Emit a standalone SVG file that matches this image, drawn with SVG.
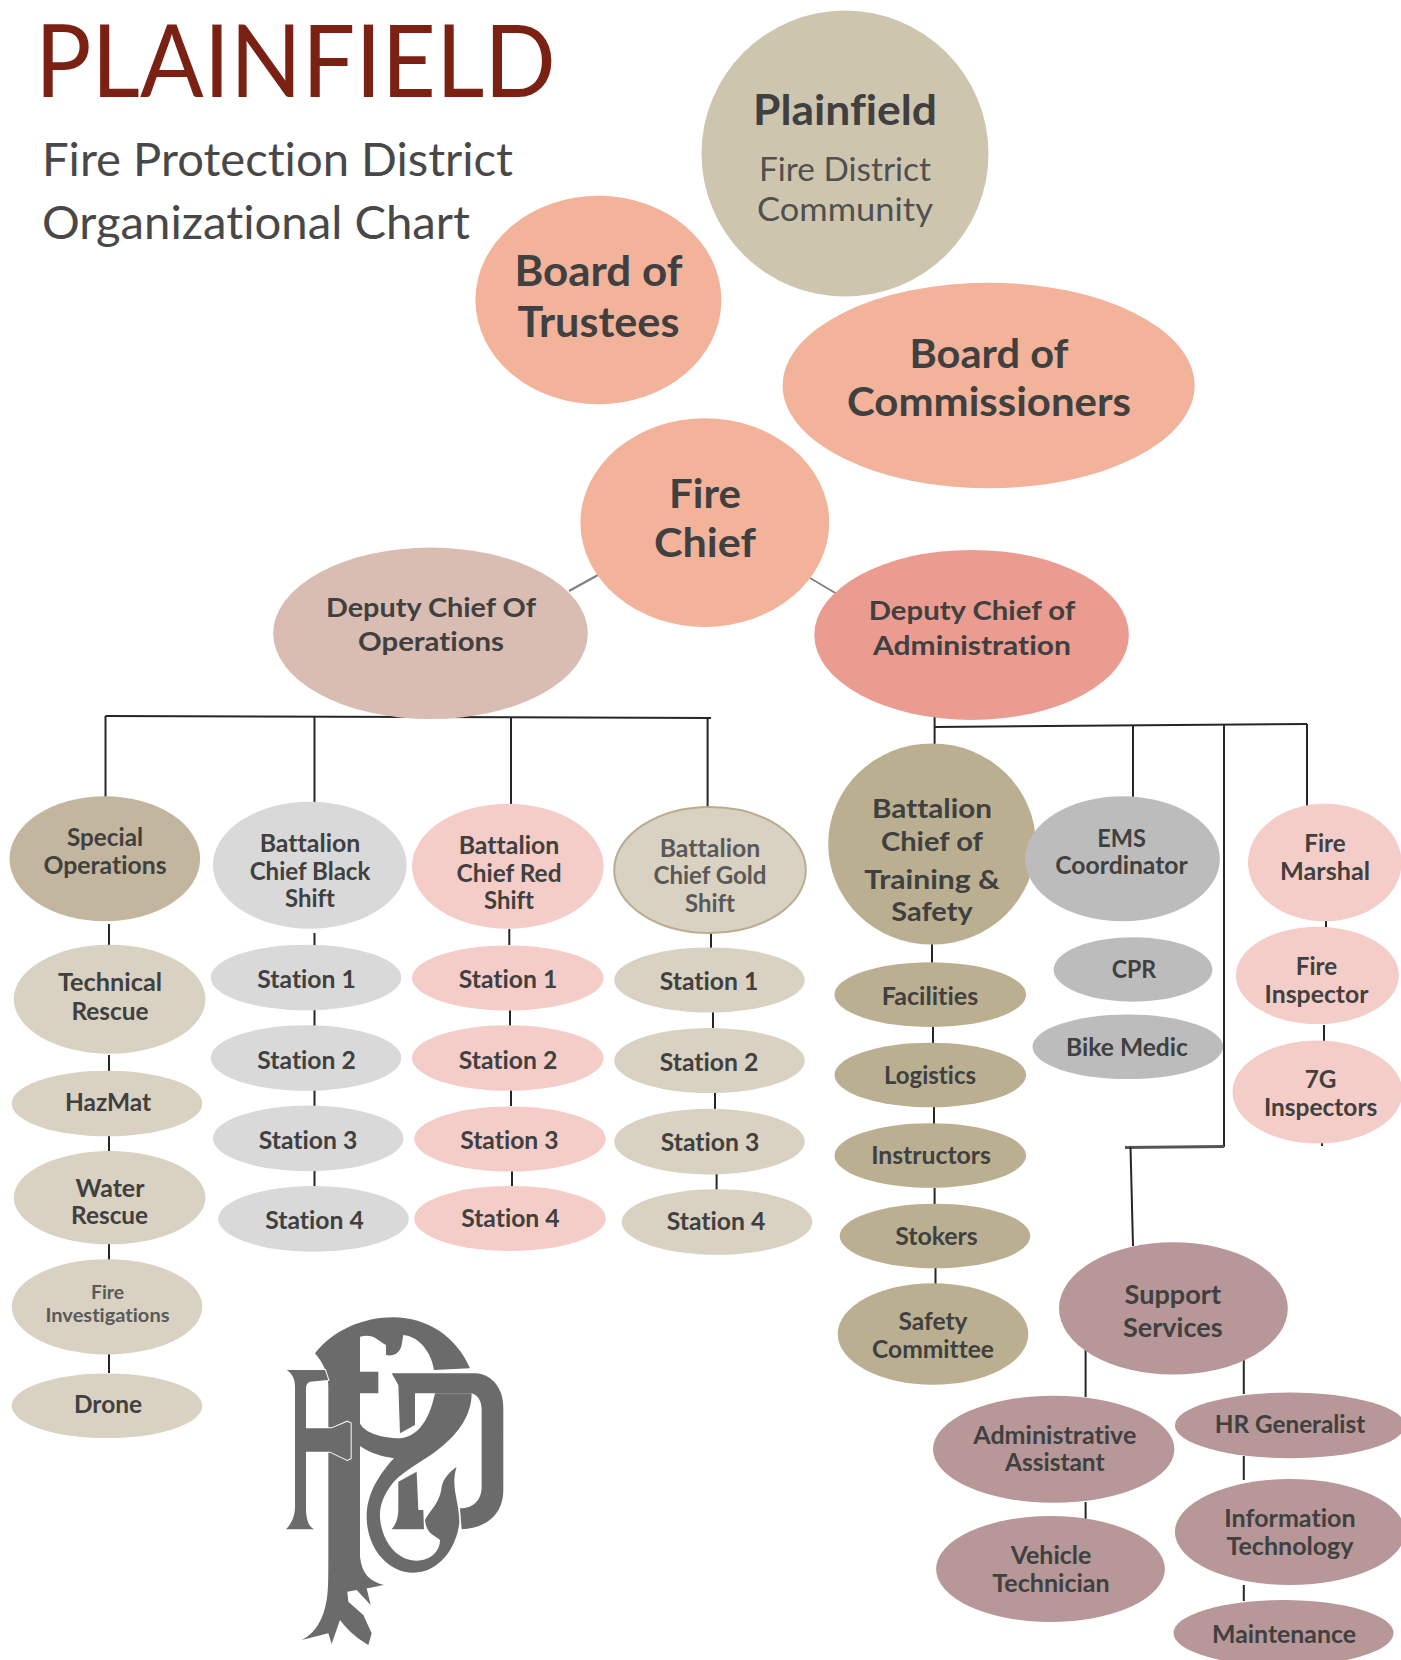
<svg xmlns="http://www.w3.org/2000/svg" width="1401" height="1660" viewBox="0 0 1401 1660">
<style>
text{font-family:Lato,"Liberation Sans",sans-serif;text-anchor:middle;fill:#404040;font-size:24px;font-weight:700;font-variant-ligatures:none}
.h{font-size:42px;font-weight:700}
.m{font-size:27px;font-weight:700}
.l{font-size:32px;font-weight:400;fill:#505050}
.t{text-anchor:start;font-weight:400}
.g{fill:#595959}
.pl{fill:#cec5af}.sa{fill:#f3b29a}.dop{fill:#d9bcb2}.dad{fill:#ea9c91}
.so{fill:#c3b69e}.tn{fill:#bbaf92}.gy{fill:#d9d9d9}.pk{fill:#f5cdc8}.bg{fill:#d9d1c1}.mg{fill:#bcbcbc}.mv{fill:#b79797}
#connectors line{stroke:#262626;stroke-width:2}
</style>
<rect width="1401" height="1660" fill="#fff"/>
<g id="connectors">
<line x1="105.5" y1="716" x2="711" y2="718"/><line x1="105.5" y1="716" x2="105.5" y2="805"/><line x1="314.5" y1="717" x2="314.5" y2="805"/><line x1="511" y1="717" x2="511" y2="806"/><line x1="707.6" y1="718" x2="707.6" y2="808"/>
<line x1="569" y1="591" x2="598" y2="575" style="stroke:#808080"/><line x1="810" y1="578" x2="837" y2="594" style="stroke:#808080"/>
<line x1="934.6" y1="680" x2="934.6" y2="746"/><line x1="934.6" y1="727" x2="1307" y2="724"/><line x1="1133" y1="725" x2="1133" y2="800"/><line x1="1224" y1="724" x2="1224" y2="1147"/><line x1="1307" y1="724" x2="1307" y2="810"/>
<line x1="1125" y1="1147.5" x2="1224" y2="1146.5" style="stroke:#555;stroke-width:3"/><line x1="1130.5" y1="1147" x2="1133" y2="1246"/>
<line x1="109" y1="924" x2="109" y2="945"/><line x1="109" y1="1055" x2="109" y2="1071"/><line x1="109" y1="1135" x2="109" y2="1152"/><line x1="109" y1="1243" x2="109" y2="1260"/><line x1="109" y1="1354" x2="109" y2="1373"/>
<line x1="314.5" y1="933" x2="314.5" y2="945"/><line x1="314.5" y1="1009" x2="314.5" y2="1026"/><line x1="314.5" y1="1090" x2="314.5" y2="1106"/><line x1="314.5" y1="1170" x2="314.5" y2="1187"/>
<line x1="509.3" y1="929" x2="509.3" y2="945"/><line x1="510" y1="1010" x2="510" y2="1026"/><line x1="511" y1="1090" x2="511" y2="1106"/><line x1="512" y1="1170" x2="512" y2="1187"/>
<line x1="711" y1="933" x2="711" y2="948"/><line x1="713" y1="1012" x2="713" y2="1028"/><line x1="715" y1="1093" x2="715" y2="1109"/><line x1="716.6" y1="1173" x2="716.6" y2="1190"/>
<line x1="932" y1="944" x2="932" y2="963"/><line x1="933" y1="1027" x2="933" y2="1043"/><line x1="934" y1="1107" x2="934" y2="1124"/><line x1="934.6" y1="1188" x2="934.6" y2="1204"/><line x1="935.5" y1="1268" x2="935.5" y2="1284"/>
<line x1="1326" y1="921" x2="1326" y2="928"/><line x1="1324" y1="1025" x2="1324" y2="1041"/><line x1="1322" y1="1143" x2="1322" y2="1146"/>
<line x1="1085.6" y1="1350" x2="1085.6" y2="1397"/><line x1="1243.8" y1="1359" x2="1243.8" y2="1394"/><line x1="1243.8" y1="1456" x2="1243.8" y2="1480"/><line x1="1243.8" y1="1585" x2="1243.8" y2="1601"/><line x1="1085.6" y1="1502" x2="1085.6" y2="1519"/>
</g>
<g id="title">
<text class="t" x="35" y="97" textLength="521" lengthAdjust="spacingAndGlyphs" style="font-size:100px;fill:#7b2114">PLAINFIELD</text>
<text class="t" style="font-size:46px;fill:#484848"><tspan x="42" y="176" textLength="471" lengthAdjust="spacingAndGlyphs">Fire Protection District</tspan><tspan x="42" y="239" textLength="428" lengthAdjust="spacingAndGlyphs">Organizational Chart</tspan></text>
</g>
<g id="n-community"><ellipse class="pl" cx="845" cy="153.6" rx="143.5" ry="143"/>
<text class="h" x="845" y="125" textLength="184" lengthAdjust="spacingAndGlyphs">Plainfield</text>
<text class="l"><tspan x="845" y="181" textLength="172" lengthAdjust="spacingAndGlyphs">Fire District</tspan><tspan x="845" y="221" textLength="176" lengthAdjust="spacingAndGlyphs">Community</tspan></text></g>
<g id="n-trustees"><ellipse class="sa" cx="598.4" cy="300" rx="123" ry="104.3"/>
<text class="h"><tspan x="598.4" y="286" textLength="168" lengthAdjust="spacingAndGlyphs">Board of</tspan><tspan x="598.4" y="337" textLength="162" lengthAdjust="spacingAndGlyphs">Trustees</tspan></text></g>
<g id="n-commissioners"><ellipse class="sa" cx="988.6" cy="385.5" rx="206" ry="102.7"/>
<text class="h" style="font-size:40px"><tspan x="989" y="367.5" textLength="159" lengthAdjust="spacingAndGlyphs">Board of</tspan><tspan x="989" y="416" textLength="284" lengthAdjust="spacingAndGlyphs">Commissioners</tspan></text></g>
<g id="n-chief"><ellipse class="sa" cx="704.8" cy="522.6" rx="124.4" ry="104.3"/>
<text class="h" style="font-size:40px"><tspan x="705" y="508" textLength="72" lengthAdjust="spacingAndGlyphs">Fire</tspan><tspan x="705" y="557" textLength="102" lengthAdjust="spacingAndGlyphs">Chief</tspan></text></g>
<g id="n-dep-ops"><ellipse class="dop" cx="430.5" cy="633.3" rx="157.3" ry="85.8"/>
<text class="m"><tspan x="431" y="617" textLength="210" lengthAdjust="spacingAndGlyphs">Deputy Chief Of</tspan><tspan x="431" y="651" textLength="146" lengthAdjust="spacingAndGlyphs">Operations</tspan></text></g>
<g id="n-dep-admin"><ellipse class="dad" cx="971.6" cy="634.9" rx="157.3" ry="85"/>
<text class="m"><tspan x="972" y="620" textLength="206.5" lengthAdjust="spacingAndGlyphs">Deputy Chief of</tspan><tspan x="972" y="654.5" textLength="198" lengthAdjust="spacingAndGlyphs">Administration</tspan></text></g>
<g id="n-special"><ellipse class="so" cx="104.8" cy="858.8" rx="95.3" ry="62.5"/>
<text><tspan x="105" y="846" textLength="76" lengthAdjust="spacingAndGlyphs">Special</tspan><tspan x="105" y="874" textLength="123" lengthAdjust="spacingAndGlyphs">Operations</tspan></text></g>
<g id="n-technical"><ellipse class="bg" cx="109.6" cy="999.2" rx="95.8" ry="54.5"/>
<text><tspan x="110" y="991" textLength="104" lengthAdjust="spacingAndGlyphs">Technical</tspan><tspan x="110" y="1020" textLength="77" lengthAdjust="spacingAndGlyphs">Rescue</tspan></text></g>
<g id="n-hazmat"><ellipse class="bg" cx="107" cy="1103.5" rx="95.3" ry="32.8"/>
<text x="108" y="1111" textLength="86" lengthAdjust="spacingAndGlyphs">HazMat</text></g>
<g id="n-water"><ellipse class="bg" cx="109.6" cy="1197.7" rx="95.8" ry="46.6"/>
<text><tspan x="110" y="1196.7" textLength="69" lengthAdjust="spacingAndGlyphs">Water</tspan><tspan x="109.6" y="1224" textLength="77" lengthAdjust="spacingAndGlyphs">Rescue</tspan></text></g>
<g id="n-fireinv"><ellipse class="bg" cx="107" cy="1306.8" rx="95.3" ry="47.6"/>
<text style="font-size:19px;fill:#595959"><tspan x="107.5" y="1298.5" textLength="33" lengthAdjust="spacingAndGlyphs">Fire</tspan><tspan x="107.5" y="1321.6" textLength="124" lengthAdjust="spacingAndGlyphs">Investigations</tspan></text></g>
<g id="n-drone"><ellipse class="bg" cx="107" cy="1405.8" rx="95.3" ry="32.3"/>
<text x="108" y="1412.7" textLength="68" lengthAdjust="spacingAndGlyphs">Drone</text></g>
<g id="n-bc-black"><ellipse class="gy" cx="309.8" cy="865.2" rx="96.9" ry="63.5"/>
<text><tspan x="310" y="852" textLength="100.6" lengthAdjust="spacingAndGlyphs">Battalion</tspan><tspan x="310" y="879.5" textLength="120.7" lengthAdjust="spacingAndGlyphs">Chief Black</tspan><tspan x="310" y="907" textLength="50" lengthAdjust="spacingAndGlyphs">Shift</tspan></text></g>
<g id="n-b1"><ellipse class="gy" cx="306" cy="977.5" rx="95.3" ry="32.8"/><text x="306.6" y="988" textLength="98.5" lengthAdjust="spacingAndGlyphs">Station 1</text></g>
<g id="n-b2"><ellipse class="gy" cx="306" cy="1058" rx="95.3" ry="32.8"/><text x="306.6" y="1068.6" textLength="98.5" lengthAdjust="spacingAndGlyphs">Station 2</text></g>
<g id="n-b3"><ellipse class="gy" cx="308.2" cy="1138.4" rx="95.3" ry="32.8"/><text x="308" y="1149" textLength="98.5" lengthAdjust="spacingAndGlyphs">Station 3</text></g>
<g id="n-b4"><ellipse class="gy" cx="313.5" cy="1218.9" rx="95.3" ry="32.8"/><text x="314.5" y="1228.8" textLength="98.5" lengthAdjust="spacingAndGlyphs">Station 4</text></g>
<g id="n-bc-red"><ellipse class="pk" cx="507.8" cy="866.3" rx="95.8" ry="62.5"/>
<text><tspan x="509" y="853.8" textLength="100.6" lengthAdjust="spacingAndGlyphs">Battalion</tspan><tspan x="509" y="881.5" textLength="105" lengthAdjust="spacingAndGlyphs">Chief Red</tspan><tspan x="509" y="909" textLength="50" lengthAdjust="spacingAndGlyphs">Shift</tspan></text></g>
<g id="n-r1"><ellipse class="pk" cx="507.8" cy="978" rx="95.8" ry="32.5"/><text x="508" y="988" textLength="98.5" lengthAdjust="spacingAndGlyphs">Station 1</text></g>
<g id="n-r2"><ellipse class="pk" cx="507.8" cy="1058" rx="95.8" ry="32.8"/><text x="508" y="1068.6" textLength="98.5" lengthAdjust="spacingAndGlyphs">Station 2</text></g>
<g id="n-r3"><ellipse class="pk" cx="510" cy="1139" rx="95.8" ry="32.5"/><text x="509.4" y="1149" textLength="98.5" lengthAdjust="spacingAndGlyphs">Station 3</text></g>
<g id="n-r4"><ellipse class="pk" cx="510" cy="1218.4" rx="95.8" ry="32.5"/><text x="510.4" y="1227.4" textLength="98.5" lengthAdjust="spacingAndGlyphs">Station 4</text></g>
<g id="n-bc-gold"><ellipse class="bg" cx="710" cy="870" rx="95.8" ry="63" style="stroke:#b9ad8f;stroke-width:2"/>
<text class="g"><tspan x="710" y="856.7" textLength="100.6" lengthAdjust="spacingAndGlyphs">Battalion</tspan><tspan x="710" y="884" textLength="113" lengthAdjust="spacingAndGlyphs">Chief Gold</tspan><tspan x="710" y="911.8" textLength="50" lengthAdjust="spacingAndGlyphs">Shift</tspan></text></g>
<g id="n-g1"><ellipse class="bg" cx="709.5" cy="980" rx="95.3" ry="32.5"/><text x="709" y="989.5" textLength="98.5" lengthAdjust="spacingAndGlyphs">Station 1</text></g>
<g id="n-g2"><ellipse class="bg" cx="709.5" cy="1060.6" rx="95.3" ry="32.5"/><text x="709" y="1070.6" textLength="98.5" lengthAdjust="spacingAndGlyphs">Station 2</text></g>
<g id="n-g3"><ellipse class="bg" cx="709.5" cy="1141.6" rx="95.3" ry="32.8"/><text x="710" y="1151" textLength="98.5" lengthAdjust="spacingAndGlyphs">Station 3</text></g>
<g id="n-g4"><ellipse class="bg" cx="717" cy="1222" rx="95.3" ry="32.8"/><text x="716" y="1229.5" textLength="98.5" lengthAdjust="spacingAndGlyphs">Station 4</text></g>
<g id="n-bc-training"><ellipse class="tn" cx="932" cy="844" rx="103.8" ry="100.6"/>
<text class="m"><tspan x="932" y="818" textLength="120" lengthAdjust="spacingAndGlyphs">Battalion</tspan><tspan x="932" y="851.4" textLength="102" lengthAdjust="spacingAndGlyphs">Chief of</tspan><tspan x="932" y="888.5" textLength="135.6" lengthAdjust="spacingAndGlyphs">Training &amp;</tspan><tspan x="932" y="921" textLength="81.5" lengthAdjust="spacingAndGlyphs">Safety</tspan></text></g>
<g id="n-ems"><ellipse class="mg" cx="1122.5" cy="858.8" rx="97.4" ry="62.5"/>
<text><tspan x="1121.5" y="846.5" textLength="48.7" lengthAdjust="spacingAndGlyphs">EMS</tspan><tspan x="1121.5" y="874" textLength="132.4" lengthAdjust="spacingAndGlyphs">Coordinator</tspan></text></g>
<g id="n-cpr"><ellipse class="mg" cx="1133" cy="969.5" rx="79.4" ry="32.3"/><text x="1134" y="977.5" textLength="44.5" lengthAdjust="spacingAndGlyphs">CPR</text></g>
<g id="n-bike"><ellipse class="mg" cx="1127.8" cy="1046.8" rx="95.3" ry="32.3"/><text x="1127" y="1055.5" textLength="121.8" lengthAdjust="spacingAndGlyphs">Bike Medic</text></g>
<g id="n-marshal"><ellipse class="pk" cx="1324.8" cy="862.5" rx="76.8" ry="58.8"/>
<text><tspan x="1325" y="852.4" textLength="41.3" lengthAdjust="spacingAndGlyphs">Fire</tspan><tspan x="1325" y="880" textLength="90" lengthAdjust="spacingAndGlyphs">Marshal</tspan></text></g>
<g id="n-inspector"><ellipse class="pk" cx="1317.4" cy="975.4" rx="81.5" ry="48.7"/>
<text><tspan x="1316.5" y="975" textLength="41.3" lengthAdjust="spacingAndGlyphs">Fire</tspan><tspan x="1316.5" y="1002.8" textLength="103.8" lengthAdjust="spacingAndGlyphs">Inspector</tspan></text></g>
<g id="n-7g"><ellipse class="pk" cx="1317.5" cy="1092" rx="85" ry="51.4"/>
<text><tspan x="1320.6" y="1088" textLength="31.8" lengthAdjust="spacingAndGlyphs">7G</tspan><tspan x="1320.6" y="1115.5" textLength="113.3" lengthAdjust="spacingAndGlyphs">Inspectors</tspan></text></g>
<g id="n-facilities"><ellipse class="tn" cx="930.3" cy="994.6" rx="95.8" ry="32.3"/><text x="930" y="1005" textLength="96.4" lengthAdjust="spacingAndGlyphs">Facilities</text></g>
<g id="n-logistics"><ellipse class="tn" cx="930.3" cy="1075" rx="95.8" ry="32.3"/><text x="930" y="1083.5" textLength="92" lengthAdjust="spacingAndGlyphs">Logistics</text></g>
<g id="n-instructors"><ellipse class="tn" cx="930.3" cy="1155.5" rx="95.8" ry="32.3"/><text x="931" y="1164" textLength="119.7" lengthAdjust="spacingAndGlyphs">Instructors</text></g>
<g id="n-stokers"><ellipse class="tn" cx="935" cy="1236" rx="95.3" ry="32.3"/><text x="936.5" y="1244.5" textLength="82.6" lengthAdjust="spacingAndGlyphs">Stokers</text></g>
<g id="n-safety"><ellipse class="tn" cx="933" cy="1334" rx="95.3" ry="50.8"/>
<text><tspan x="933" y="1330" textLength="69" lengthAdjust="spacingAndGlyphs">Safety</tspan><tspan x="933" y="1357.5" textLength="122" lengthAdjust="spacingAndGlyphs">Committee</tspan></text></g>
<g id="n-support"><ellipse class="mv" cx="1173.4" cy="1308.4" rx="114.4" ry="66.2"/>
<text class="m"><tspan x="1172.8" y="1303.6" textLength="96.4" lengthAdjust="spacingAndGlyphs">Support</tspan><tspan x="1172.8" y="1336.5" textLength="99.5" lengthAdjust="spacingAndGlyphs">Services</tspan></text></g>
<g id="n-admin"><ellipse class="mv" cx="1053.7" cy="1449.2" rx="120.7" ry="53.5"/>
<text><tspan x="1054.8" y="1444" textLength="163" lengthAdjust="spacingAndGlyphs">Administrative</tspan><tspan x="1054.8" y="1471" textLength="99.5" lengthAdjust="spacingAndGlyphs">Assistant</tspan></text></g>
<g id="n-vehicle"><ellipse class="mv" cx="1050.5" cy="1569" rx="114.4" ry="53"/>
<text><tspan x="1051" y="1564" textLength="80.5" lengthAdjust="spacingAndGlyphs">Vehicle</tspan><tspan x="1051" y="1591.7" textLength="117.5" lengthAdjust="spacingAndGlyphs">Technician</tspan></text></g>
<g id="n-hr"><ellipse class="mv" cx="1289.9" cy="1425.4" rx="115" ry="32.8"/><text x="1290" y="1433.3" textLength="150.4" lengthAdjust="spacingAndGlyphs">HR Generalist</text></g>
<g id="n-it"><ellipse class="mv" cx="1289.9" cy="1532" rx="115" ry="53"/>
<text><tspan x="1290" y="1527" textLength="131.3" lengthAdjust="spacingAndGlyphs">Information</tspan><tspan x="1290" y="1554.6" textLength="127" lengthAdjust="spacingAndGlyphs">Technology</tspan></text></g>
<g id="n-maint"><ellipse class="mv" cx="1283.5" cy="1633" rx="110" ry="33"/><text x="1284" y="1642.5" textLength="144" lengthAdjust="spacingAndGlyphs">Maintenance</text></g>
<g id="logo" transform="translate(260 1290) scale(.3333)" fill="#6b6b6b">
<path d="M165 190C220 120 310 82 400 82C500 82 590 140 630 235L522 240C515 190 480 140 430 135L425 165C420 190 400 200 378 195L378 165C350 150 340 130 300 140L300 245L355 245L355 310L300 310L300 400C310 425 360 445 420 445C480 440 510 380 525 310L635 310C635 380 590 440 520 490C460 530 420 550 390 590C365 625 355 660 362 700C375 770 420 812 470 812C510 812 540 785 540 750C525 735 500 735 495 690C510 660 540 640 545 590C550 565 570 545 590 530C570 590 600 640 598 700C590 770 540 848 460 848C380 848 320 770 320 680C320 610 360 550 402 505C370 500 330 490 300 468L300 800C305 850 330 875 372 885C345 890 325 895 320 895L332 945L290 900L262 905L265 935L310 975L335 1030L325 1065C300 1050 270 1030 240 990L215 1062L205 1030L125 1050C165 1030 190 990 200 930C205 900 205 860 205 800L205 290C205 250 190 220 165 190Z"/>
<path d="M80 240L195 240L205 270L150 275C138 280 138 290 138 300L138 415L215 415L262 395L272 400L272 505L262 510L210 485L138 485L138 660C140 700 150 710 162 718L78 718C100 695 105 670 105 650L105 290C105 265 95 250 80 240Z" stroke="#fff" stroke-width="6" paint-order="stroke"/>
<path d="M395 250L650 250C700 255 730 300 730 350L730 600C730 680 670 715 605 718L600 655C640 655 665 630 665 590L665 360C665 330 650 310 630 310L465 310L465 405L420 430L415 285Z"/>
<path d="M415 575L470 545L475 660L490 660L492 718L395 718C410 700 415 680 415 660Z"/>
</g>
</svg>
